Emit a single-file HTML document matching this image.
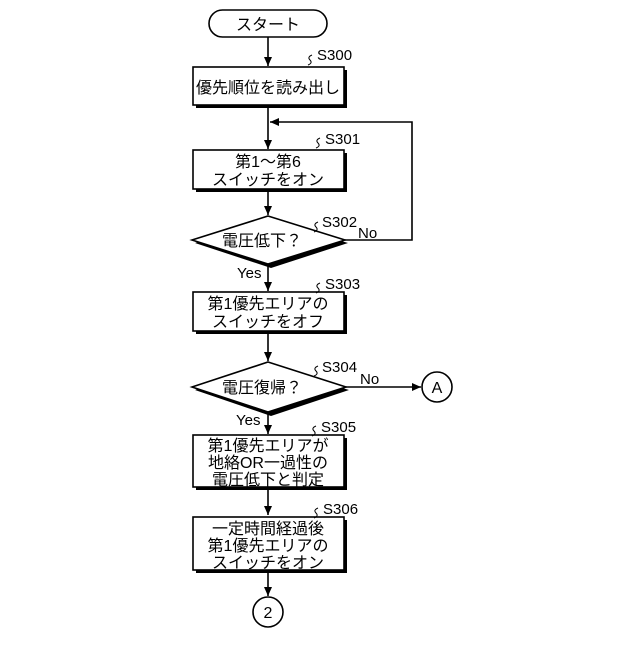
<!DOCTYPE html>
<html><head><meta charset="utf-8"><style>
body{margin:0;background:#fff}
svg text{font-family:"Liberation Sans","Noto Sans CJK JP",sans-serif;fill:#000}
</style></head><body>
<svg width="640" height="640" viewBox="0 0 640 640" xmlns="http://www.w3.org/2000/svg">
<defs><marker id="a" markerWidth="10" markerHeight="10" refX="9" refY="5" orient="auto" markerUnits="userSpaceOnUse"><path d="M0,1 L9,5 L0,9 z" fill="#000"/></marker></defs>
<g stroke="#000" stroke-width="1.6" fill="none">
<rect x="209" y="10" width="118" height="27" rx="13.5" fill="#fff"/>
<line x1="268" y1="37" x2="268" y2="66" marker-end="url(#a)"/>
<rect x="196" y="70" width="151" height="38" fill="#000" stroke="none"/>
<rect x="193" y="67" width="151" height="38" fill="#fff"/>
<line x1="268" y1="108" x2="268" y2="149" marker-end="url(#a)"/>
<polyline points="345,240 412,240 412,122 270,122" marker-end="url(#a)"/>
<rect x="196" y="153" width="151" height="39" fill="#000" stroke="none"/>
<rect x="193" y="150" width="151" height="39" fill="#fff"/>
<line x1="268" y1="192" x2="268" y2="215" marker-end="url(#a)"/>
<polygon points="268,219 348,243 271,268 195,243" fill="#000" stroke="none"/>
<polygon points="268,216 345,240 268,264 192,240" fill="#fff"/>
<line x1="268" y1="266" x2="268" y2="291" marker-end="url(#a)"/>
<rect x="196" y="295" width="151" height="39" fill="#000" stroke="none"/>
<rect x="193" y="292" width="151" height="39" fill="#fff"/>
<line x1="268" y1="334" x2="268" y2="361" marker-end="url(#a)"/>
<polygon points="268,365 349,390 271,416 195,390" fill="#000" stroke="none"/>
<polygon points="268,362 346,387 268,412 192,387" fill="#fff"/>
<line x1="346" y1="387" x2="421" y2="387" marker-end="url(#a)"/>
<circle cx="437" cy="387" r="15" fill="#fff"/>
<line x1="268" y1="414" x2="268" y2="434" marker-end="url(#a)"/>
<rect x="196" y="438" width="151" height="52" fill="#000" stroke="none"/>
<rect x="193" y="435" width="151" height="52" fill="#fff"/>
<line x1="268" y1="490" x2="268" y2="515" marker-end="url(#a)"/>
<rect x="196" y="520" width="151" height="53" fill="#000" stroke="none"/>
<rect x="193" y="517" width="151" height="53" fill="#fff"/>
<line x1="268" y1="573" x2="268" y2="596" marker-end="url(#a)"/>
<circle cx="268" cy="612" r="15" fill="#fff"/>
<path d="M312,55 q-5,2 -2,5 q3,3 -2,5" stroke-width="1"/>
<path d="M320,138 q-5,2 -2,5 q3,3 -2,5" stroke-width="1"/>
<path d="M318,222 q-5,2 -2,5 q3,3 -2,5" stroke-width="1"/>
<path d="M320,283 q-5,2 -2,5 q3,3 -2,5" stroke-width="1"/>
<path d="M318,366 q-5,2 -2,5 q3,3 -2,5" stroke-width="1"/>
<path d="M316,426 q-5,2 -2,5 q3,3 -2,5" stroke-width="1"/>
<path d="M318,508 q-5,2 -2,5 q3,3 -2,5" stroke-width="1"/>
</g>
<g font-size="16" text-anchor="middle">
<text x="268" y="30">スタート</text>
<text x="268" y="93">優先順位を読み出し</text>
<text x="268" y="167">第1〜第6</text>
<text x="268" y="185">スイッチをオン</text>
<text x="262" y="246">電圧低下？</text>
<text x="268" y="309">第1優先エリアの</text>
<text x="268" y="327">スイッチをオフ</text>
<text x="262" y="393">電圧復帰？</text>
<text x="268" y="451">第1優先エリアが</text>
<text x="268" y="468">地絡OR一過性の</text>
<text x="268" y="485">電圧低下と判定</text>
<text x="268" y="534">一定時間経過後</text>
<text x="268" y="551">第1優先エリアの</text>
<text x="268" y="568">スイッチをオン</text>
<text x="437" y="393">A</text>
<text x="268" y="618">2</text>
</g>
<g font-size="15">
<text x="317" y="60">S300</text>
<text x="325" y="144">S301</text>
<text x="322" y="227">S302</text>
<text x="358" y="238">No</text>
<text x="237" y="278">Yes</text>
<text x="325" y="289">S303</text>
<text x="322" y="372">S304</text>
<text x="360" y="384">No</text>
<text x="236" y="425">Yes</text>
<text x="321" y="432">S305</text>
<text x="323" y="514">S306</text>
</g>
</svg>
</body></html>
